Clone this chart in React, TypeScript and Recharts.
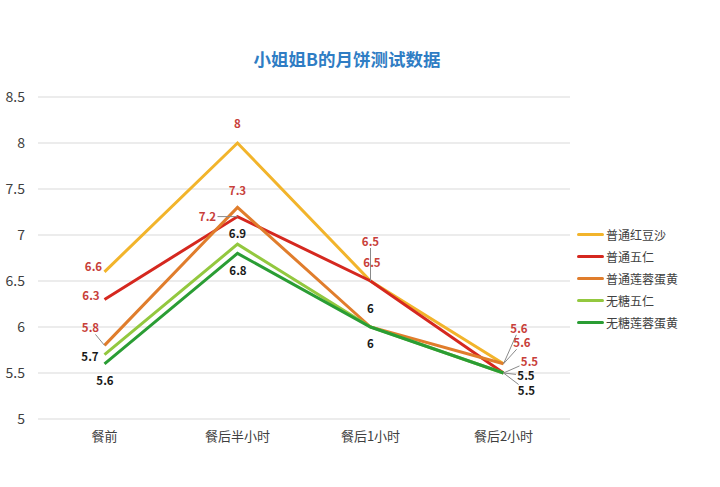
import React from 'react';
import { LineChart, Line, XAxis, YAxis, CartesianGrid, LabelList } from 'recharts';

const categories = ['餐前', '餐后半小时', '餐后1小时', '餐后2小时'];
const seriesNames = ['普通红豆沙', '普通五仁', '普通莲蓉蛋黄', '无糖五仁', '无糖莲蓉蛋黄'];
const hongdousha = [6.6, 8, 6.5, 5.6];
const wuren = [6.3, 7.2, 6.5, 5.5];
const lianrong = [5.8, 7.3, 6, 5.6];
const wutangWuren = [5.7, 6.9, 6, 5.5];
const wutangLianrong = [5.6, 6.8, 6, 5.5];
const yTicks = [5, 5.5, 6, 6.5, 7, 7.5, 8, 8.5];
const title = '小姐姐B的月饼测试数据';

const seriesValues = [hongdousha, wuren, lianrong, wutangWuren, wutangLianrong];
const colors = ['#F2B42B', '#D5281F', '#E07D2C', '#93C83F', '#2A9D34'];
const labelColors = ['#C8403A', '#C8403A', '#C8403A', '#1a1a1a', '#1a1a1a'];

// label offsets (dx, dy) of label centre from the point; null = hidden
const labelOffsets: ([number, number] | null)[][] = [
  [[-11, -5], [0, -19], [0, -39], [15.5, -35]],
  [[-13.5, -3.5], [-30, 0], [1.5, -18.5], [26, -11.5]],
  [[-14, -17], [0, -16], null, [18.5, -20.5]],
  [[-14.5, 2.5], [0, -10], [0, -18], [22.5, 2.5]],
  [[0.5, 17], [0.5, 17.5], [0, 17], [23, 17.5]],
];

const data = categories.map((c, i) => {
  const row: Record<string, string | number> = { name: c };
  seriesNames.forEach((s, k) => {
    row[s] = seriesValues[k][i];
  });
  return row;
});

const FONT = '"Noto Sans CJK SC", "Noto Sans", sans-serif';

function makeLabel(k: number) {
  return (props: any) => {
    const { x, y, value, index } = props;
    const off = labelOffsets[k][index];
    if (!off || x == null || y == null) return null;
    const [dx, dy] = off;
    const cx = x + dx;
    const cy = y + dy;
    const hw = 10;
    const hh = 6;
    const vx = -dx;
    const vy = -dy;
    const sx = vx === 0 ? Infinity : hw / Math.abs(vx);
    const sy = vy === 0 ? Infinity : hh / Math.abs(vy);
    const s = Math.min(sx, sy);
    const showLeader = Math.hypot(dx, dy) > 22 && s < 0.8;
    return (
      <g>
        {showLeader && (
          <line x1={cx + vx * s} y1={cy + vy * s} x2={x} y2={y} stroke="#8a8a8a" strokeWidth={1} />
        )}
        <text
          x={cx}
          y={cy}
          dy="0.35em"
          textAnchor="middle"
          fontSize={11.5}
          fontWeight="bold"
          fontFamily={FONT}
          fill={labelColors[k]}
        >
          {value}
        </text>
      </g>
    );
  };
}

export default function App() {
  return (
    <div style={{ position: 'absolute', left: 0, top: 0, width: 720, height: 487, background: '#fff' }}>
      <div
        style={{
          position: 'absolute',
          left: 247,
          top: 46,
          width: 200,
          textAlign: 'center',
          fontFamily: FONT,
          fontSize: 17.5,
          fontWeight: 'bold',
          color: '#2F7DC4',
          whiteSpace: 'nowrap',
        }}
      >
        {title}
      </div>
      <div
        style={{
          position: 'absolute',
          left: 577,
          top: 223,
          fontFamily: FONT,
          fontSize: 12,
          color: '#404040',
        }}
      >
        {seriesNames.map((s, k) => (
          <div key={s} style={{ display: 'flex', alignItems: 'center', height: 22 }}>
            <div style={{ width: 27, height: 3, borderRadius: 2, background: colors[k], marginRight: 2 }} />
            <span>{s}</span>
          </div>
        ))}
      </div>
      <LineChart width={720} height={487} data={data} margin={{ top: 97, right: 150, bottom: 38, left: 0 }}>
        <CartesianGrid vertical={false} stroke="#d9d9d9" strokeWidth={1} />
        <XAxis
          dataKey="name"
          padding={{ left: 66.5, right: 66.5 }}
          tickLine={false}
          axisLine={false}
          height={30}
          tickMargin={7}
          tick={{ fontSize: 13, fill: '#404040', fontFamily: FONT }}
        />
        <YAxis
          domain={[5, 8.5]}
          ticks={yTicks}
          width={38}
          tickLine={false}
          axisLine={false}
          tickMargin={7}
          interval={0}
          tick={{ fontSize: 14, fill: '#404040', fontFamily: FONT }}
        />
        {seriesNames.map((s, k) => (
          <Line
            key={s}
            dataKey={s}
            stroke={colors[k]}
            strokeWidth={3}
            dot={false}
            activeDot={false}
            isAnimationActive={false}
            type="linear"
          >
            <LabelList dataKey={s} content={makeLabel(k)} />
          </Line>
        ))}
      </LineChart>
    </div>
  );
}
